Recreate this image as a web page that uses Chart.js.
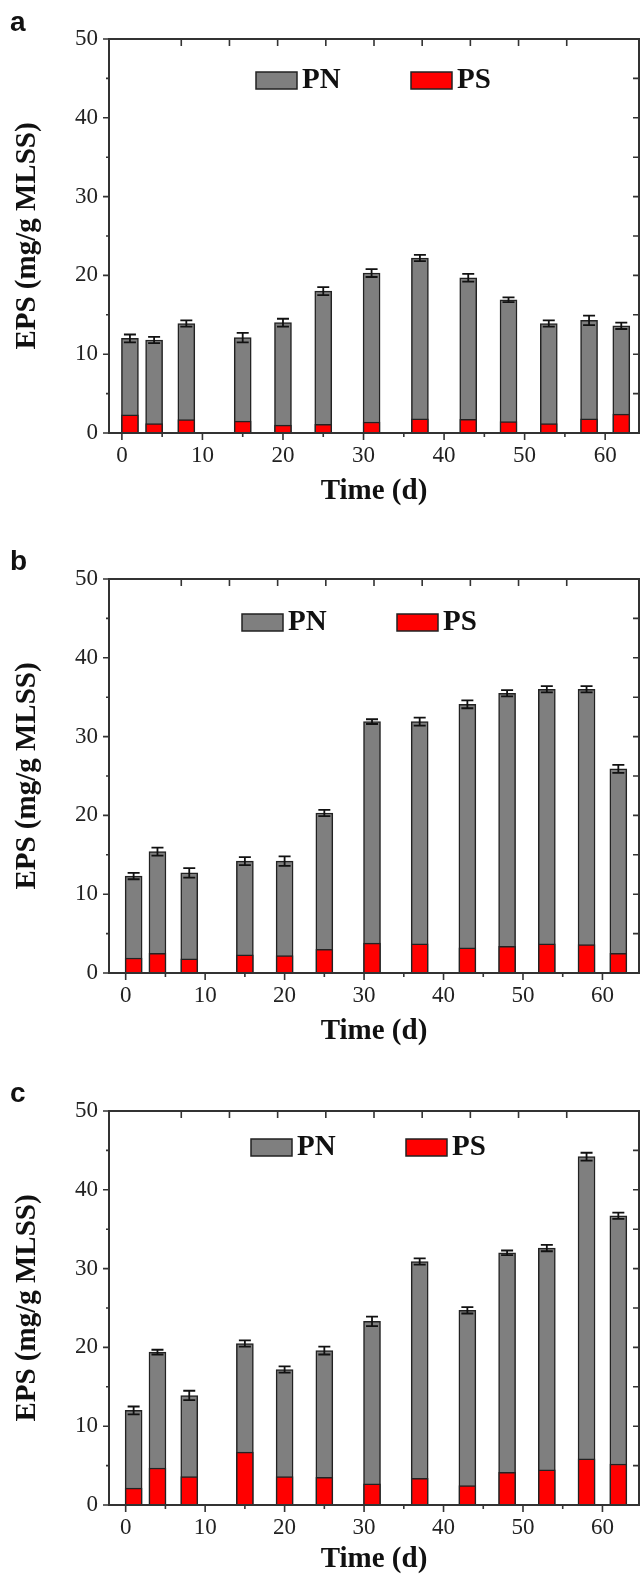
<!DOCTYPE html>
<html><head><meta charset="utf-8">
<script src="https://cdn.jsdelivr.net/npm/chart.js@4"></script>
<style>
html,body{margin:0;padding:0;background:#fff;overflow:hidden;}
#wrap{position:relative;width:641px;height:1577px;}
canvas{position:absolute;left:0;}
</style></head><body>
<div id="wrap">
<canvas id="ca" width="641" height="540" style="top:0px"></canvas>
<canvas id="cb" width="641" height="532" style="top:540px"></canvas>
<canvas id="cc" width="641" height="505" style="top:1072px"></canvas>
</div>
<script>
// ---- data ----
const days = [1, 4, 8, 15, 20, 25, 31, 37, 43, 48, 53, 58, 62];
const xTickValues = [0, 10, 20, 30, 40, 50, 60];
const yTickValues = [0, 10, 20, 30, 40, 50];
const seriesNames = ['PN', 'PS'];
const panelLetters = ['a', 'b', 'c'];
const pnA = [12.0, 11.8, 13.9, 12.1, 14.0, 18.0, 20.3, 22.2, 19.7, 16.9, 13.9, 14.3, 13.6];
const psA = [2.3, 1.2, 1.7, 1.5, 1.0, 1.1, 1.4, 1.8, 1.75, 1.45, 1.2, 1.8, 2.4];
const errA = [0.5, 0.4, 0.4, 0.6, 0.5, 0.5, 0.5, 0.4, 0.5, 0.3, 0.4, 0.6, 0.4];
const pnB = [12.3, 15.4, 12.7, 14.2, 14.2, 20.3, 31.9, 31.9, 34.1, 35.5, 36.0, 36.0, 25.9];
const psB = [1.9, 2.5, 1.8, 2.3, 2.2, 3.0, 3.8, 3.7, 3.2, 3.4, 3.7, 3.6, 2.5];
const errB = [0.4, 0.5, 0.6, 0.5, 0.6, 0.4, 0.3, 0.5, 0.5, 0.4, 0.4, 0.4, 0.5];
const pnC = [12.0, 19.4, 13.9, 20.5, 17.2, 19.6, 23.3, 30.9, 24.7, 32.0, 32.6, 44.2, 36.7];
const psC = [2.15, 4.7, 3.6, 6.7, 3.6, 3.5, 2.7, 3.4, 2.45, 4.15, 4.45, 5.85, 5.2];
const errC = [0.5, 0.3, 0.6, 0.4, 0.4, 0.5, 0.6, 0.4, 0.4, 0.3, 0.4, 0.5, 0.4];

// ---- styles ----
const GRAY = '#7f7f7f', RED = '#ff0000', INK = '#222222', AXIS = '#333333';
const SERIF = '"Liberation Serif", "Times New Roman", serif';
const SANS = '"Liberation Sans", Arial, sans-serif';
const TICK_SIZE = 23, TITLE_SIZE = 29;

const framePlugin = {
  id: 'frameTicks',
  afterDatasetsDraw(chart) {
    const {ctx, scales} = chart;
    const cfg = chart.options.plugins.frameTicks;
    const y = scales.y;
    const meta = chart.getDatasetMeta(0);
    ctx.save();
    ctx.strokeStyle = '#111';
    ctx.lineWidth = 1.8;
    cfg.pn.forEach((v, i) => {
      const bx = meta.data[i].x;
      const yt = y.getPixelForValue(v + cfg.err[i]);
      const yb = y.getPixelForValue(v - cfg.err[i]);
      ctx.beginPath();
      ctx.moveTo(bx, yt); ctx.lineTo(bx, yb);
      ctx.moveTo(bx - 6, yt); ctx.lineTo(bx + 6, yt);
      ctx.moveTo(bx - 6, yb); ctx.lineTo(bx + 6, yb);
      ctx.stroke();
    });
    ctx.restore();
  },
  afterDraw(chart) {
    const {ctx, chartArea: ca, scales} = chart;
    const cfg = chart.options.plugins.frameTicks;
    const x = scales.x, y = scales.y, x2 = scales.x2;
    ctx.save();
    ctx.strokeStyle = AXIS;
    ctx.lineWidth = 2;
    ctx.strokeRect(ca.left, ca.top, ca.right - ca.left, ca.bottom - ca.top);
    ctx.lineWidth = 1.6;
    ctx.beginPath();
    for (let v = 0; v <= 60; v += 5) {
      const px = x.getPixelForValue(v);
      const len = v % 10 === 0 ? 7 : 4;
      ctx.moveTo(px, ca.bottom); ctx.lineTo(px, ca.bottom + len);
    }
    for (let v = 0; v <= 50; v += 5) {
      const py = y.getPixelForValue(v);
      const len = v % 10 === 0 ? 6 : 3;
      ctx.moveTo(ca.left, py); ctx.lineTo(ca.left - len, py);
      if (v > 0 && v < 50) { ctx.moveTo(ca.right, py); ctx.lineTo(ca.right - 6, py); }
    }
    for (let v = 1; v <= 9; v++) {
      const px = x2.getPixelForValue(v);
      ctx.moveTo(px, ca.top); ctx.lineTo(px, ca.top + 7);
    }
    ctx.stroke();
    ctx.fillStyle = '#111';
    ctx.font = 'bold 28px ' + SANS;
    ctx.textBaseline = 'alphabetic';
    ctx.textAlign = 'left';
    ctx.fillText(cfg.letter, 10, cfg.letterY);
    const L = cfg.legend;
    const items = [[seriesNames[0], GRAY, L.pnX], [seriesNames[1], RED, L.psX]];
    items.forEach(([name, col, bx]) => {
      ctx.fillStyle = col;
      ctx.fillRect(bx, L.y, 41, 17);
      ctx.strokeStyle = '#222';
      ctx.lineWidth = 1.5;
      ctx.strokeRect(bx, L.y, 41, 17);
      ctx.fillStyle = '#111';
      ctx.font = 'bold 29px ' + SERIF;
      ctx.textBaseline = 'middle';
      ctx.fillText(name, bx + 46, L.y + 9);
    });
    ctx.restore();
  }
};

function makePanel(id, H, letter, letterY, pn, ps, err, xmin, xmax, legend) {
  const titleCenter = 492;
  const padBottom = Math.max(0, H - TITLE_SIZE * 0.6 - titleCenter);
  return new Chart(document.getElementById(id), {
    type: 'bar',
    data: {
      datasets: [
        { label: seriesNames[0], data: days.map((d, i) => ({x: d, y: pn[i]})),
          backgroundColor: GRAY, borderColor: INK, borderWidth: 1.5, order: 1,
          grouped: false, barThickness: 17 },
        { label: seriesNames[1], data: days.map((d, i) => ({x: d, y: ps[i]})),
          backgroundColor: RED, borderColor: INK, borderWidth: 1.5, order: 0,
          grouped: false, barThickness: 17 }
      ]
    },
    options: {
      responsive: false,
      animation: false,
      devicePixelRatio: 1,
      layout: { padding: { top: 39, right: 2, left: 0, bottom: 0 } },
      plugins: {
        legend: { display: false },
        tooltip: { enabled: false },
        frameTicks: { pn, err, letter, letterY, legend }
      },
      scales: {
        x: {
          type: 'linear', position: 'bottom', min: xmin, max: xmax, offset: false,
          afterBuildTicks: s => { s.ticks = xTickValues.map(v => ({value: v})); },
          afterFit: s => { s.height = H - 433; },
          grid: { display: false, drawTicks: false },
          border: { display: false },
          ticks: { color: INK, padding: 9, font: { family: SERIF, size: TICK_SIZE }, maxRotation: 0, autoSkip: false },
          title: { display: true, text: 'Time (d)', color: '#111',
                   font: { family: SERIF, size: TITLE_SIZE, weight: 'bold', lineHeight: 1.2 },
                   padding: { top: 0, bottom: padBottom } }
        },
        x2: { type: 'linear', position: 'top', min: 0, max: 10, display: false },
        y: {
          type: 'linear', position: 'left', min: 0, max: 50,
          afterBuildTicks: s => { s.ticks = yTickValues.map(v => ({value: v})); },
          afterFit: s => { s.width = 109; },
          grid: { display: false, drawTicks: false },
          border: { display: false },
          ticks: { color: INK, padding: 11, font: { family: SERIF, size: TICK_SIZE } },
          title: { display: true, text: 'EPS (mg/g MLSS)', color: '#111',
                   font: { family: SERIF, size: TITLE_SIZE, weight: 'bold', lineHeight: 1.2 },
                   padding: { top: 10, bottom: 0 } }
        }
      }
    },
    plugins: [framePlugin]
  });
}

makePanel('ca', 540, panelLetters[0], 31, pnA, psA, errA, -1.6, 64.2, { pnX: 256, psX: 411, y: 72 });
makePanel('cb', 532, panelLetters[1], 30, pnB, psB, errB, -2.1, 64.6, { pnX: 242, psX: 397, y: 74 });
makePanel('cc', 505, panelLetters[2], 30, pnC, psC, errC, -2.1, 64.6, { pnX: 251, psX: 406, y: 67 });
</script>
</body></html>
